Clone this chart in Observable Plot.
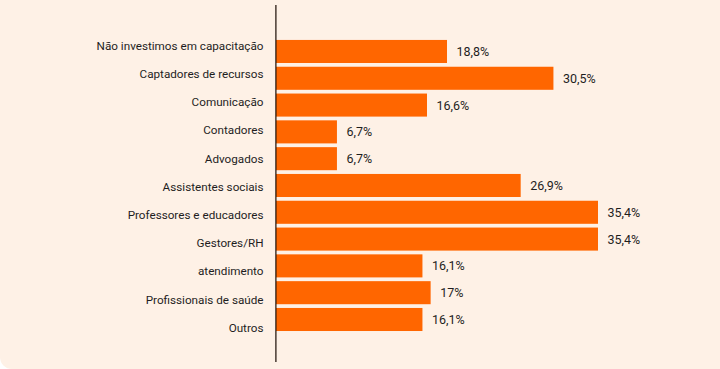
<!DOCTYPE html>
<html>
<head>
<meta charset="utf-8">
<script src="https://cdn.jsdelivr.net/npm/d3@7"></script>
<script src="https://cdn.jsdelivr.net/npm/@observablehq/plot@0.6"></script>
<style>
  html, body { margin: 0; padding: 0; background: #ffffff; }
  #wrap {
    position: relative; width: 720px; height: 369px;
    background: #fef1e6; border-bottom-left-radius: 12px; overflow: hidden;
  }
  #wrap svg { position: absolute; left: 0; top: 0; background: transparent; }
</style>
</head>
<body>
<div id="wrap"></div>
<script>
const categories = [
  "Não investimos em capacitação",
  "Captadores de recursos",
  "Comunicação",
  "Contadores",
  "Advogados",
  "Assistentes sociais",
  "Professores e educadores",
  "Gestores/RH",
  "atendimento",
  "Profissionais de saúde",
  "Outros"
];
const values = [18.8, 30.5, 16.6, 6.7, 6.7, 26.9, 35.4, 35.4, 16.1, 17, 16.1];

const data = categories.map((c, i) => ({category: c, value: values[i]}));
const fmt = v => String(v).replace(".", ",") + "%";
const font = "Roboto, 'DejaVu Sans', sans-serif";

const main = Plot.plot({
  width: 720,
  height: 369,
  marginTop: 5,
  marginBottom: 7,
  marginLeft: 0,
  marginRight: 0,
  style: {background: "transparent", fontFamily: font, fontSize: "12.5px", color: "#1e1e1e"},
  x: {domain: [0, 35.4], range: [276, 598], axis: null},
  y: {domain: categories, range: [5, 362], paddingInner: 0.14, paddingOuter: 1.23, align: 0.53, round: false, axis: null},
  marks: [
    Plot.barX(data, {x: "value", y: "category", fill: "#ff6600"}),
    Plot.text(data, {x: "value", y: "category", text: d => fmt(d.value), textAnchor: "start", dx: 9, fill: "#1e1e1e", fontSize: 12.5}),
    Plot.ruleX([0], {stroke: "#1a0d05", strokeWidth: 1.2, dx: -0.6})
  ]
});

const labels = Plot.plot({
  width: 720,
  height: 369,
  marginTop: 0,
  marginBottom: 0,
  marginLeft: 276,
  marginRight: 0,
  style: {background: "transparent", fontFamily: font, fontSize: "11.7px", color: "#1e1e1e"},
  x: {axis: null},
  y: {type: "point", domain: categories, range: [45.5, 327.5], padding: 0, round: false},
  marks: [
    Plot.axisY({tickSize: 0, tickPadding: 13, label: null, fill: "#1e1e1e", fontSize: 11.7})
  ]
});

document.getElementById("wrap").append(main, labels);
</script>
</body>
</html>
